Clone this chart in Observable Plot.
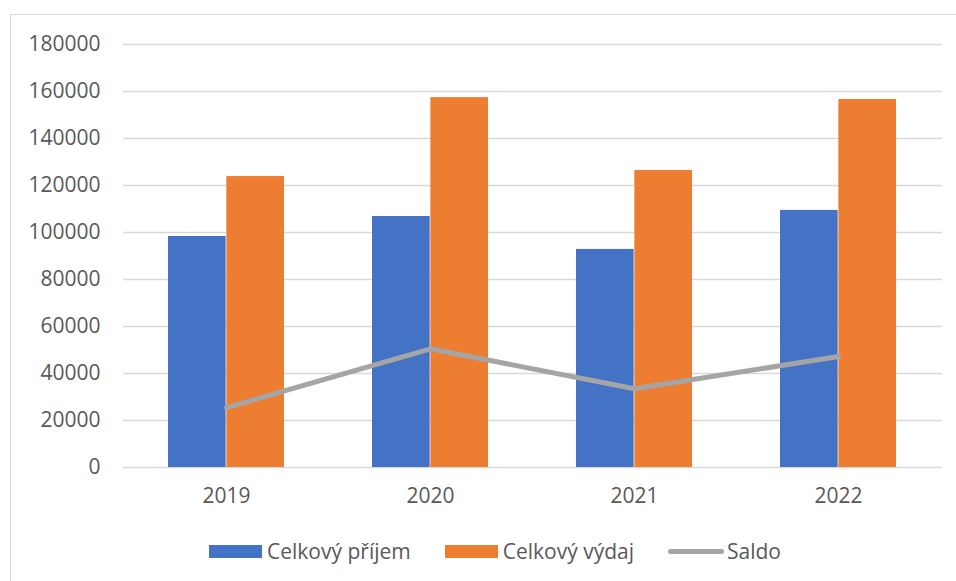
<!DOCTYPE html>
<html>
<head>
<meta charset="utf-8">
<script src="https://cdn.jsdelivr.net/npm/d3@7"></script>
<script src="https://cdn.jsdelivr.net/npm/@observablehq/plot@0.6"></script>
<style>
  html, body { margin: 0; padding: 0; background: #fff; overflow: hidden; }
  #frame { position: absolute; left: 10px; top: 14px; width: 960px; height: 590px; border: 1px solid #d9d9d9; box-sizing: border-box; }
  #chart { position: absolute; left: 0; top: 0; }
  #legend { position: absolute; left: 0; width: 990px; top: 537px; display: flex; justify-content: center; align-items: center;
            font-family: "Open Sans", sans-serif; font-size: 21px; color: #595959; }
  .item { display: flex; align-items: center; margin: 0 17px; }
  .sw { width: 53px; height: 13px; margin-right: 5px; }
  .ln { width: 56px; height: 5px; border-radius: 3px; margin-right: 3px; }
</style>
</head>
<body>
<div id="frame"></div>
<div id="chart"></div>
<div id="legend"></div>
<script>
const years = ["2019", "2020", "2021", "2022"];
const prijem = [98300, 106800, 92800, 109400];
const vydaj = [123800, 157400, 126400, 156600];
const saldo = [25500, 50500, 33500, 47200];
const yTicks = [0, 20000, 40000, 60000, 80000, 100000, 120000, 140000, 160000, 180000];
const seriesNames = ["Celkový příjem", "Celkový výdaj", "Saldo"];
const colors = ["#4472C4", "#ED7D31", "#A5A5A5"];

const rows = years.map((y, i) => ({year: y, prijem: prijem[i], vydaj: vydaj[i], saldo: saldo[i]}));

const W = 956, H = 520, mL = 123, mR = 14;
const pInner = 0.43, pOuter = 0.215;
const step = (W - mL - mR) / (years.length - pInner + 2 * pOuter);
const half = step * (1 - pInner) / 2;

const chart = Plot.plot({
  width: W,
  height: H,
  marginLeft: mL,
  marginRight: mR,
  marginTop: 44,
  marginBottom: 53,
  style: {fontFamily: "'Open Sans', sans-serif", fontSize: "21px", color: "#595959", background: "transparent"},
  x: {domain: years, paddingInner: pInner, paddingOuter: pOuter, label: null, tickSize: 0, tickPadding: 21},
  y: {domain: [0, 180000], ticks: yTicks, label: null, tickSize: 0, tickPadding: 23, tickFormat: d => String(d)},
  marks: [
    Plot.gridY(yTicks, {stroke: "#d9d9d9", strokeOpacity: 1, strokeWidth: 1.3}),
    Plot.barY(rows, {x: "year", y: "prijem", fill: colors[0], insetRight: half}),
    Plot.barY(rows, {x: "year", y: "vydaj", fill: colors[1], insetLeft: half}),
    Plot.line(rows, {x: "year", y: "saldo", stroke: colors[2], strokeWidth: 5, strokeLinecap: "round", strokeLinejoin: "round"})
  ]
});
document.getElementById("chart").appendChild(chart);

const legend = document.getElementById("legend");
seriesNames.forEach((name, i) => {
  const item = document.createElement("div");
  item.className = "item";
  const sw = document.createElement("div");
  sw.className = i === 2 ? "ln" : "sw";
  sw.style.background = colors[i];
  const t = document.createElement("span");
  t.textContent = name;
  item.appendChild(sw);
  item.appendChild(t);
  legend.appendChild(item);
});
</script>
</body>
</html>
